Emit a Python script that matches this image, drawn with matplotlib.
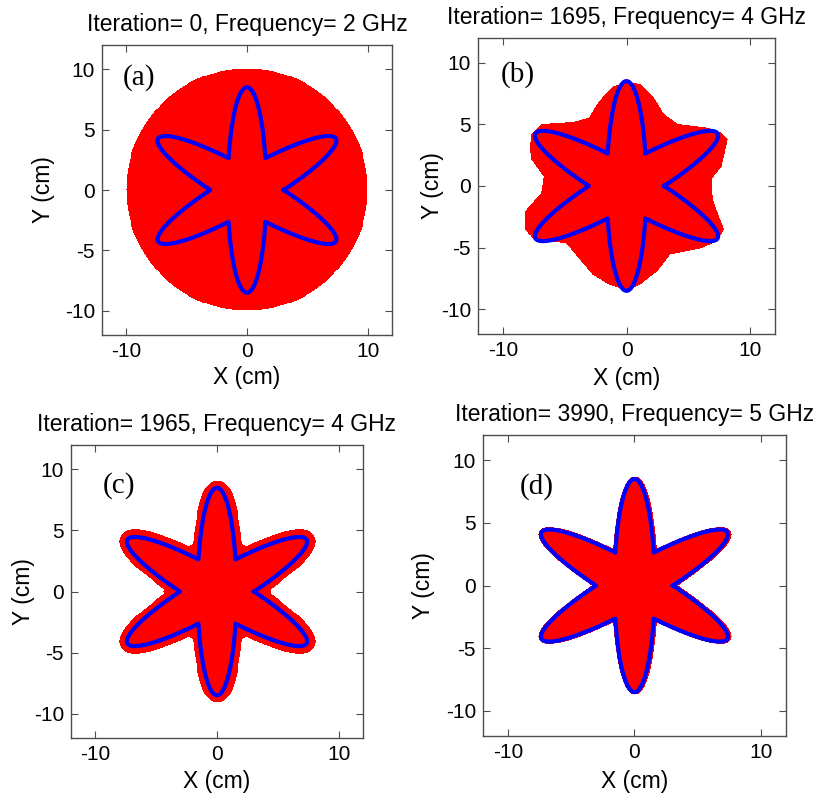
import numpy as np
import matplotlib
matplotlib.use("Agg")
import matplotlib.pyplot as plt
from matplotlib.path import Path

plt.rcParams['font.family'] = ['Liberation Sans', 'DejaVu Sans']
plt.rcParams['axes.unicode_minus'] = False

# Textos de cada panel
etiquetas = ["(a)", "(b)", "(c)", "(d)"]
iteraciones = [0, 1695, 1965, 3990]
frecuencias_ghz = [2, 4, 4, 5]

# Objeto real: tres elipses cruzadas (estrella de seis pétalos), cm
elipse_a = 8.5          # semieje largo
elipse_b = 1.6          # semieje corto
elipse_angulos = [90, 30, 150]   # grados

# Región reconstruida (roja) de cada panel
radio_disco = [10.0, 0.0, 4.4, 0.0]      # disco central, cm
margen_estrella = [0.0, 0.0, 0.6, 0.2]   # crecimiento alrededor de la estrella, cm

# Contorno rojo del panel (b)
contorno_b_x = [0.0, -1.2, -2.3, -3.1, -4.2, -5.2, -6.9, -7.7, -7.8, -7.7, -6.7, -6.9,
                -7.9, -8.2, -8.2, -7.5, -4.9, -3.9, -2.8, -1.5, -0.6, 0.3, 1.1, 2.5,
                3.5, 6.0, 7.3, 7.8, 7.3, 6.9, 6.8, 7.6, 8.1, 7.6, 6.5, 4.1, 3.0, 2.2, 1.1]
contorno_b_y = [8.4, 8.0, 6.8, 5.5, 5.2, 5.1, 5.0, 4.2, 3.0, 2.1, 0.7, -0.6,
                -1.7, -2.1, -3.5, -4.4, -4.7, -5.9, -7.2, -8.0, -8.3, -8.4, -8.0, -6.9,
                -5.6, -5.1, -4.5, -3.5, -2.2, -1.1, 0.5, 1.5, 3.7, 4.3, 4.7, 5.0, 5.8, 7.1, 8.2]

# Posición de los ejes en la figura [izquierda, abajo, ancho, alto]
posiciones = [[0.1232, 0.5807, 0.3502, 0.3630],
              [0.5773, 0.5820, 0.3587, 0.3705],
              [0.0857, 0.0763, 0.3527, 0.3667],
              [0.5833, 0.0788, 0.3660, 0.3767]]
posicion_etiqueta = [(-10.3, 9.3), (-10.2, 9.0), (-9.4, 8.7), (-9.1, 7.9)]
ylabel_x = [-0.203, -0.152, -0.161, -0.195]
xlabel_y = [-0.148, -0.149, -0.147, -0.150]

# Contorno de la estrella: radio máximo de las tres elipses
theta = np.linspace(0, 2 * np.pi, 2161)
r_estrella = np.zeros_like(theta)
for ang in elipse_angulos:
    phi = theta - np.deg2rad(ang)
    r_e = 1 / np.sqrt((np.cos(phi) / elipse_a) ** 2 + (np.sin(phi) / elipse_b) ** 2)
    r_estrella = np.maximum(r_estrella, r_e)
x_estrella = r_estrella * np.cos(theta)
y_estrella = r_estrella * np.sin(theta)
camino_estrella = Path(np.column_stack([x_estrella, y_estrella]))

# Malla de píxeles
paso = 0.08
malla = np.arange(-12, 12 + paso / 2, paso)
X, Y = np.meshgrid(malla, malla)
puntos = np.column_stack([X.ravel(), Y.ravel()])
dentro_estrella = camino_estrella.contains_points(puntos).reshape(X.shape)

# distancia de cada píxel al contorno de la estrella
xs, ys = x_estrella[::2], y_estrella[::2]
distancia = np.empty(X.shape)
for i in range(0, X.shape[0], 20):
    dx = X[i:i + 20, :, None] - xs[None, None, :]
    dy = Y[i:i + 20, :, None] - ys[None, None, :]
    distancia[i:i + 20] = np.sqrt(dx ** 2 + dy ** 2).min(axis=2)

camino_b = Path(np.column_stack([contorno_b_x, contorno_b_y]))
dentro_b = camino_b.contains_points(puntos).reshape(X.shape)


def mascara_roja(k):
    m = np.zeros(X.shape, dtype=bool)
    if radio_disco[k] > 0:
        m |= X ** 2 + Y ** 2 <= radio_disco[k] ** 2
    if margen_estrella[k] > 0:
        m |= dentro_estrella | (distancia <= margen_estrella[k])
    if k == 1:
        m |= dentro_b
    return m


fig = plt.figure(figsize=(8.28, 7.99), dpi=100)

for k in range(4):
    ax = fig.add_axes(posiciones[k])
    m = mascara_roja(k)
    img = np.zeros(X.shape + (4,))
    img[m] = [1, 0, 0, 1]
    ax.imshow(img, extent=(-12 - paso / 2, 12 + paso / 2, -12 - paso / 2, 12 + paso / 2),
              origin='lower', interpolation='nearest', aspect='auto')
    ax.plot(x_estrella, y_estrella, color=(0, 0, 1), lw=3, solid_joinstyle='round')

    ax.set_xlim(-12, 12)
    ax.set_ylim(-12, 12)
    ax.set_xticks([-10, 0, 10])
    ax.set_yticks([-10, -5, 0, 5, 10])
    ax.tick_params(direction='in', top=True, right=True, length=5, width=0.8,
                   labelsize=15, pad=5, color='0.3')
    for s in ax.spines.values():
        s.set_color('0.3')
        s.set_linewidth(1.0)
    ax.set_xlabel("X (cm)", fontsize=16.5, va='center')
    ax.set_ylabel("Y (cm)", fontsize=16.5, va='center')
    ax.xaxis.set_label_coords(0.5, xlabel_y[k])
    ax.yaxis.set_label_coords(ylabel_x[k], 0.5)
    ax.set_title(f"Iteration= {iteraciones[k]}, Frequency= {frecuencias_ghz[k]} GHz",
                 fontsize=16.5, pad=10)
    ax.text(posicion_etiqueta[k][0], posicion_etiqueta[k][1], etiquetas[k],
            family='Liberation Serif', fontsize=21, ha='left', va='center')

fig.savefig("out.png", dpi=100)
